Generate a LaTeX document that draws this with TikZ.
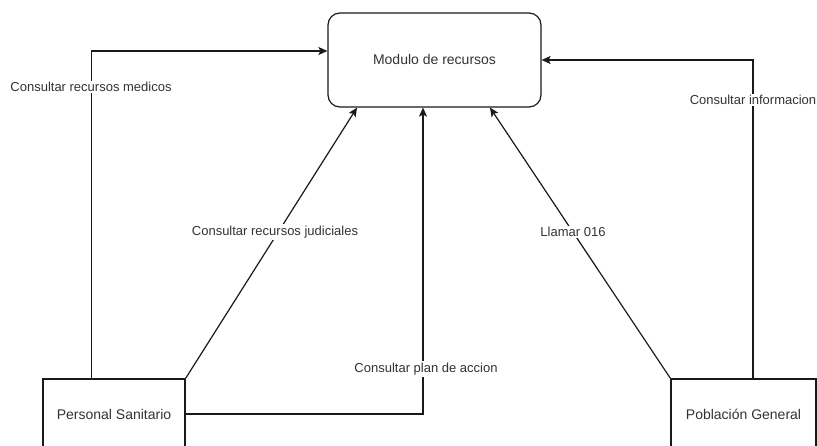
\documentclass[tikz,border=0pt]{standalone}
\usepackage{fontspec}
\setmainfont{Liberation Sans}
\usetikzlibrary{arrows.meta}
\begin{document}
\begin{tikzpicture}[x=1bp,y=-1bp,
  txt/.style={text=black!80},
  mainbox/.style={draw=black!90,line width=1.2bp,rounded corners=12bp,minimum width=213bp,minimum height=94bp,inner sep=0pt,txt,font=\fontsize{14bp}{16bp}\selectfont},
  actorbox/.style={draw=black!90,line width=1.2bp,minimum height=70bp,inner sep=0pt,txt,font=\fontsize{14bp}{16bp}\selectfont},
  arr/.style={draw=black!90,line width=1.2bp,-{Stealth[length=9bp,width=8bp,inset=2bp]}},
  lbl/.style={fill=white,inner sep=1.5bp,txt,font=\fontsize{13bp}{15bp}\selectfont}]
\clip (0,0) rectangle (817,446);
\fill[white] (0,0) rectangle (817,446);
\node[mainbox] (mod) at (434.5,60) {Modulo de recursos};
\node[actorbox,minimum width=142bp] (ps) at (114,414) {Personal Sanitario};
\node[actorbox,minimum width=145bp] (pg) at (743.5,414) {Población General};
% left: consultar recursos medicos
\draw[arr] ([xshift=49bp]ps.north west) |- ([yshift=9bp]mod.west);
\node[lbl] (l1) at (91,87) {Consultar recursos medicos};
% judiciales
\draw[arr] (ps.north east) -- ([xshift=-77.5bp]mod.south);
\node[lbl] (l2) at (275,232) {Consultar recursos judiciales};
% plan de accion
\draw[arr] (ps.east) -| ([xshift=-11.5bp]mod.south);
\node[lbl] (l3) at (426,369) {Consultar plan de accion};
% llamar 016
\draw[arr] (pg.north west) -- ([xshift=55.5bp]mod.south);
\node[lbl] (l4) at (573,232) {Llamar 016};
% consultar informacion
\draw[arr] ([xshift=9.5bp]pg.north) |- (mod.east);
\node[lbl] (l5) at (753,100) {Consultar informacion};
\end{tikzpicture}
\end{document}
